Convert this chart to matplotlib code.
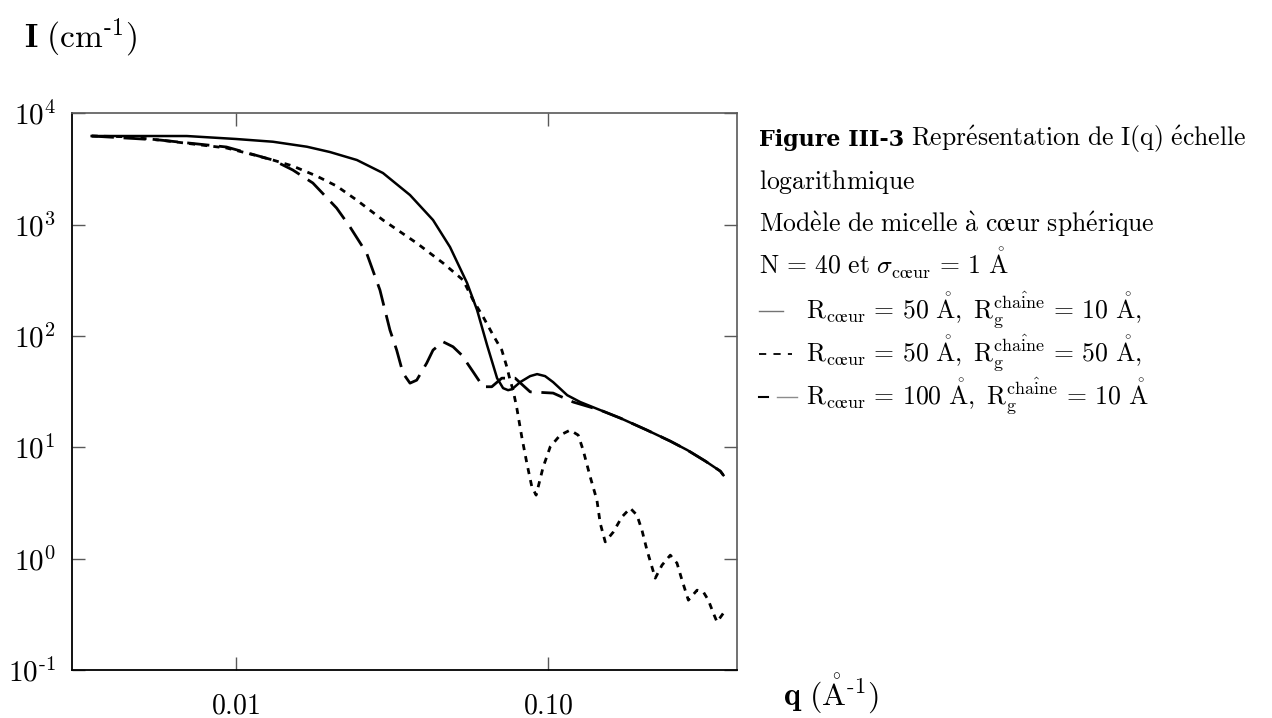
import matplotlib
matplotlib.use("Agg")
import matplotlib.pyplot as plt
from matplotlib.lines import Line2D
from matplotlib.ticker import FixedLocator, FixedFormatter, NullLocator

plt.rcParams['mathtext.fontset'] = 'cm'
plt.rcParams['font.family'] = 'DejaVu Serif'

# R_coeur = 50 A, Rg = 10 A  (solid)
q_50_10 = [0.00346, 0.00697, 0.0100, 0.01314, 0.01688, 0.0200, 0.0244, 0.02956,
           0.03607, 0.04274, 0.04844, 0.05492, 0.05912, 0.06363, 0.0685, 0.0716,
           0.07429, 0.07651, 0.08117, 0.08738, 0.09199, 0.09756, 0.1035, 0.1148,
           0.1264, 0.1464, 0.1697, 0.2066, 0.2453, 0.2781, 0.3175, 0.3546, 0.3626]
I_50_10 = [6250, 6250, 5880, 5555, 5010, 4490, 3805, 2908,
           1845, 1100, 629, 299, 171, 82.8, 41.8, 34.0,
           32.6, 33.3, 38.5, 43.6, 45.45, 43.6, 38.5, 29.4,
           25.5, 21.6, 18.3, 14.27, 11.36, 9.44, 7.52, 6.11, 5.62]

# R_coeur = 50 A, Rg = 50 A  (dotted)
q_50_50 = [0.00346, 0.00447, 0.00571, 0.00728, 0.00934, 0.01082, 0.01314, 0.01522,
           0.01813, 0.02101, 0.02435, 0.02956, 0.0379, 0.04601, 0.05332, 0.0574,
           0.06179, 0.06651, 0.07092, 0.07358, 0.07539, 0.07708, 0.07922, 0.08219,
           0.08528, 0.08848, 0.09132, 0.09616, 0.1013, 0.109, 0.1173, 0.1245,
           0.1291, 0.136, 0.1429, 0.1464, 0.1519, 0.1611, 0.1718, 0.1826,
           0.1919, 0.1991, 0.2066, 0.2196, 0.2307, 0.2453, 0.2577, 0.2674,
           0.2802, 0.2987, 0.3128, 0.3246, 0.3368, 0.3461, 0.3626]
I_50_50 = [6250, 6160, 5755, 5300, 4880, 4400, 3805, 3360,
           2734, 2222, 1663, 1100, 683, 452, 318, 210,
           148.8, 101.9, 74.7, 52.9, 40.1, 32.6, 22.5, 12.35,
           7.21, 4.42, 3.72, 6.64, 10.1, 12.87, 14.27, 12.87,
           9.44, 5.43, 3.35, 2.08, 1.415, 1.73, 2.37, 2.84,
           2.46, 1.80, 1.192, 0.668, 0.874, 1.075, 0.911, 0.641,
           0.424, 0.521, 0.503, 0.424, 0.324, 0.270, 0.324]

# R_coeur = 100 A, Rg = 10 A  (long dashes)
q_100_10 = [0.00346, 0.00571, 0.00934, 0.01314, 0.01522, 0.01764, 0.02101, 0.02317,
            0.02621, 0.02891, 0.03112, 0.0327, 0.03425, 0.03607, 0.0379, 0.0408,
            0.04274, 0.04601, 0.04953, 0.0528, 0.0574, 0.06179, 0.06588, 0.07092,
            0.07822, 0.08738, 0.1035, 0.12, 0.1464, 0.1697, 0.2066, 0.2453,
            0.2781, 0.3175, 0.3546, 0.3626]
I_100_10 = [6250, 5755, 4980, 3805, 3095, 2365, 1410, 957,
            555, 258.5, 113, 74.7, 46.4, 37.7, 40.1, 57.1,
            74.7, 88.7, 80.0, 67.4, 47.7, 35.0, 35.0, 41.8,
            41.8, 31.5, 30.7, 25.5, 21.6, 18.3, 14.27, 11.36,
            9.44, 7.52, 6.11, 5.62]

xticks = [0.01, 0.1]
xtick_labels = [r'$0.01$', r'$0.10$']
yticks = [1e-1, 1e0, 1e1, 1e2, 1e3, 1e4]
ytick_labels = [r'$10^{\text{-}1}$', r'$10^{0}$', r'$10^{1}$',
                r'$10^{2}$', r'$10^{3}$', r'$10^{4}$']

W, H = 1272, 718
fig = plt.figure(figsize=(W / 100, H / 100), dpi=100)
ax = fig.add_axes([72.3 / W, 1 - 670 / H, (736.7 - 72.3) / W, (670 - 113.3) / H])

ax.plot(q_50_10, I_50_10, color='black', lw=1.8, solid_joinstyle='round')
ax.plot(q_50_50, I_50_50, color='black', lw=2.0, linestyle=(0, (2.2, 2.2)))
ax.plot(q_100_10, I_100_10, color='black', lw=2.0, linestyle=(0, (8, 3.5)))

ax.set_xscale('log')
ax.set_yscale('log')
ax.set_xlim(0.003, 0.4)
ax.set_ylim(0.1, 1e4)

ax.xaxis.set_major_locator(FixedLocator(xticks))
ax.xaxis.set_major_formatter(FixedFormatter(xtick_labels))
ax.yaxis.set_major_locator(FixedLocator(yticks))
ax.yaxis.set_major_formatter(FixedFormatter(ytick_labels))
ax.xaxis.set_minor_locator(NullLocator())
ax.yaxis.set_minor_locator(NullLocator())

ax.tick_params(which='major', direction='in', length=9.5, width=1.0, color='0.35',
               top=True, right=True)
ax.tick_params(axis='x', pad=16, labelsize=20)
ax.tick_params(axis='y', pad=12, labelsize=21)

for side in ['left', 'bottom']:
    ax.spines[side].set_linewidth(1.3)
    ax.spines[side].set_color('black')
for side in ['top', 'right']:
    ax.spines[side].set_linewidth(1.2)
    ax.spines[side].set_color('0.35')

# axis titles
fig.text(24 / W, 1 - 38 / H, r'$\mathbf{I}\ (\mathrm{cm}^{\text{-}1})$',
         fontsize=24, ha='left', va='center')
fig.text(783 / W, 1 - 694 / H, r'$\mathbf{q}\ (\mathring{\mathrm{A}}^{\text{-}1})$',
         fontsize=23, ha='left', va='center')

# caption and legend on the right
x0 = 759
fs = 18.5
baselines = [146, 189, 232, 275, 318, 361, 404]

t_bold = fig.text(x0 / W, 1 - baselines[0] / H, 'Figure III-3', fontsize=16,
                  fontweight='bold', family='DejaVu Serif', ha='left', va='baseline')
fig.canvas.draw()
bb = t_bold.get_window_extent()
fig.text((bb.x1 + 7) / W, 1 - baselines[0] / H,
         r"$\mathrm{Repr\'esentation\ de\ I(q)\ \'echelle}$",
         fontsize=fs, ha='left', va='baseline')

eq = r'\,=\,'
lines = [
    (x0, r'$\mathrm{logarithmique}$'),
    (x0, r"$\mathrm{Mod\`ele\ de\ micelle\ \`a\ cœur\ sph\'erique}$"),
    (x0, r'$\mathrm{N}' + eq + r'40\ \mathrm{et}\ \sigma_{\mathrm{cœur}}' + eq + r'1\ \mathring{\mathrm{A}}$'),
    (806, r'$\mathrm{R}_{\mathrm{cœur}}' + eq + r'50\ \mathring{\mathrm{A}},\ \mathrm{R}_{\mathrm{g}}^{\mathrm{cha\^{i}ne}}' + eq + r'10\ \mathring{\mathrm{A}},$'),
    (806, r'$\mathrm{R}_{\mathrm{cœur}}' + eq + r'50\ \mathring{\mathrm{A}},\ \mathrm{R}_{\mathrm{g}}^{\mathrm{cha\^{i}ne}}' + eq + r'50\ \mathring{\mathrm{A}},$'),
    (806, r'$\mathrm{R}_{\mathrm{cœur}}' + eq + r'100\ \mathring{\mathrm{A}},\ \mathrm{R}_{\mathrm{g}}^{\mathrm{cha\^{i}ne}}' + eq + r'10\ \mathring{\mathrm{A}}$'),
]
for (xp, s), yb in zip(lines, baselines[1:]):
    fig.text(xp / W, 1 - yb / H, s, fontsize=fs, ha='left', va='baseline')

# legend samples
def sample(x1, x2, yb, **kw):
    fig.add_artist(Line2D([x1 / W, x2 / W], [1 - (yb - 7) / H] * 2,
                          transform=fig.transFigure, **kw))

sample(759, 783, baselines[4], color='0.45', lw=1.0)
sample(759, 792, baselines[5], color='black', lw=1.3, linestyle=(0, (4, 4)))
sample(759, 768, baselines[6], color='black', lw=1.5)
sample(777, 797, baselines[6], color='0.55', lw=1.0)

fig.savefig('out.png', dpi=100)
